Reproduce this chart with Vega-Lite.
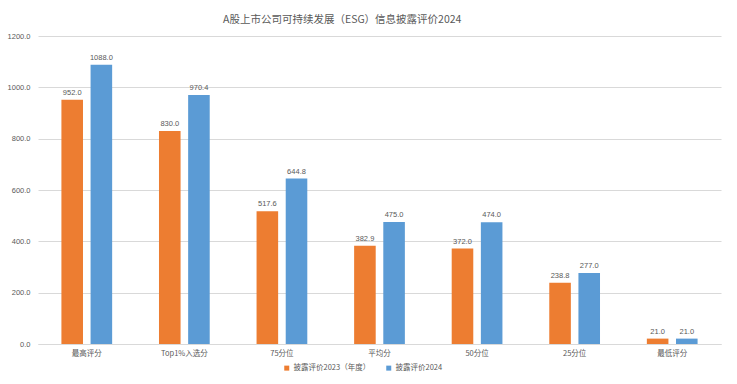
{
  "$schema": "https://vega.github.io/schema/vega-lite/v6.json",
  "width": 683,
  "height": 308,
  "autosize": "none",
  "padding": {"left": 38, "top": 36, "right": 16, "bottom": 40},
  "background": "white",
  "title": {"text": "A股上市公司可持续发展（ESG）信息披露评价2024", "anchor": "start", "dx": 216, "offset": 7, "fontSize": 10.5, "fontWeight": "normal", "color": "#595959", "font": "Noto Sans CJK SC"},
  "data": {"values": [
    {"cat": "最高评分", "series": "披露评价2023（年度）", "v": 952.0},
    {"cat": "最高评分", "series": "披露评价2024", "v": 1088.0},
    {"cat": "Top1%入选分", "series": "披露评价2023（年度）", "v": 830.0},
    {"cat": "Top1%入选分", "series": "披露评价2024", "v": 970.4},
    {"cat": "75分位", "series": "披露评价2023（年度）", "v": 517.6},
    {"cat": "75分位", "series": "披露评价2024", "v": 644.8},
    {"cat": "平均分", "series": "披露评价2023（年度）", "v": 382.9},
    {"cat": "平均分", "series": "披露评价2024", "v": 475.0},
    {"cat": "50分位", "series": "披露评价2023（年度）", "v": 372.0},
    {"cat": "50分位", "series": "披露评价2024", "v": 474.0},
    {"cat": "25分位", "series": "披露评价2023（年度）", "v": 238.8},
    {"cat": "25分位", "series": "披露评价2024", "v": 277.0},
    {"cat": "最低评分", "series": "披露评价2023（年度）", "v": 21.0},
    {"cat": "最低评分", "series": "披露评价2024", "v": 21.0}
  ]},
  "encoding": {
    "x": {"field": "cat", "type": "nominal", "sort": null, "scale": {"paddingInner": 0.48, "paddingOuter": 0.24},
      "axis": {"title": null, "labelAngle": 0, "ticks": false, "domain": true, "domainColor": "#D9D9D9", "labelColor": "#595959", "labelFontSize": 7.5, "labelFont": "Noto Sans CJK SC", "labelPadding": 5}},
    "xOffset": {"field": "series", "type": "nominal", "scale": {"paddingInner": 0.26}},
    "y": {"field": "v", "type": "quantitative", "scale": {"domain": [0, 1200]},
      "axis": {"title": null, "values": [0, 200, 400, 600, 800, 1000, 1200], "format": ".1f", "ticks": false, "domain": false, "gridColor": "#D9D9D9", "labelColor": "#595959", "labelFontSize": 7.5, "labelPadding": 8}}
  },
  "layer": [
    {"mark": {"type": "bar"},
     "encoding": {"color": {"field": "series", "type": "nominal", "scale": {"range": ["#ED7D31", "#5B9BD5"]},
       "legend": {"title": null, "orient": "none", "direction": "horizontal", "legendX": 245, "legendY": 328, "symbolType": "square", "symbolSize": 25, "labelFontSize": 7.5, "labelColor": "#595959", "labelFont": "Noto Sans CJK SC", "labelOffset": 3, "columnPadding": 14, "symbolStrokeWidth": 0}}}},
    {"mark": {"type": "text", "dy": -7, "fontSize": 7.5, "color": "#595959"},
     "encoding": {"text": {"field": "v", "type": "quantitative", "format": ".1f"}}}
  ],
  "config": {"view": {"stroke": null}}
}
